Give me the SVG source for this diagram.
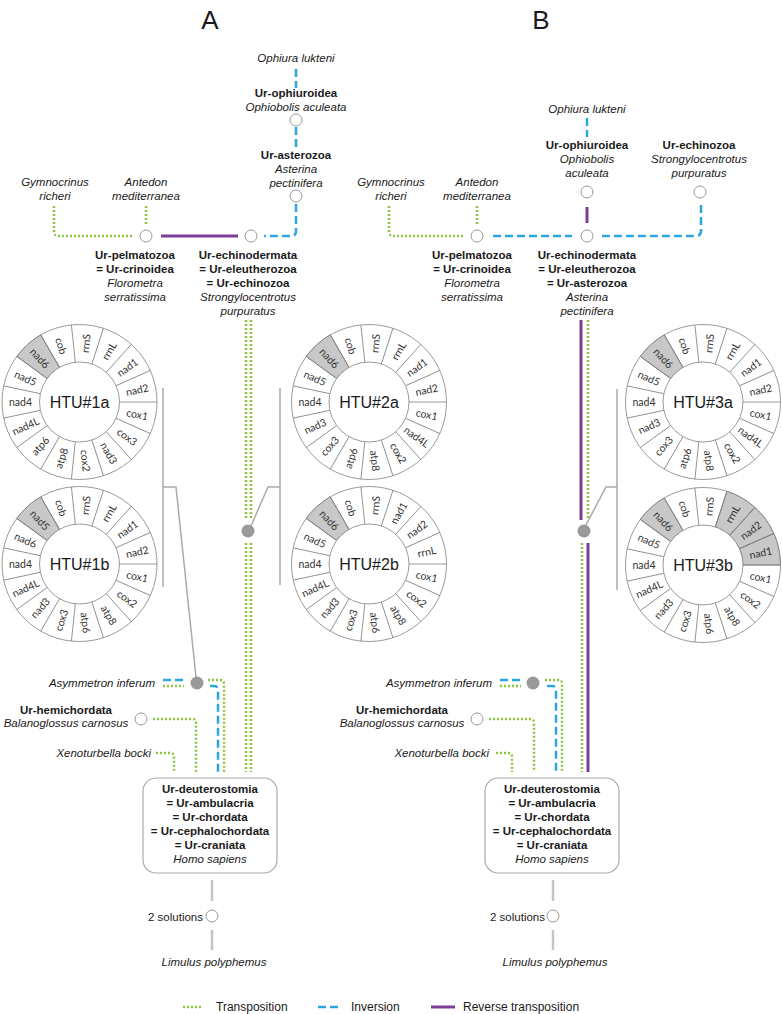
<svg xmlns="http://www.w3.org/2000/svg" xmlns:xlink="http://www.w3.org/1999/xlink" width="782" height="1014" viewBox="0 0 782 1014">
<style>
text{font-family:"Liberation Sans",Arial,sans-serif;fill:#1a1a1a}
.t{font-size:11.5px;text-anchor:middle}
.b{font-weight:bold}
.i{font-style:italic}
.e{text-anchor:end}
.hd{font-size:26px;text-anchor:middle}
.g{font-family:Lato,"Liberation Sans",sans-serif;font-size:10.5px;text-anchor:middle;dominant-baseline:central;fill:#333}
.htu{font-size:16px;text-anchor:middle;dominant-baseline:central}
.lg{font-size:12px}
.node{fill:#fff;stroke:#999;stroke-width:1}
.hub{fill:#999;stroke:none}
.ring{fill:#fff;stroke:#808080;stroke-width:0.8}
.hl{fill:#c8c8c8;stroke:#808080;stroke-width:0.8}
.spk line{stroke:#808080;stroke-width:0.8}
.tr{fill:none;stroke:#8cc63e;stroke-width:2.5;stroke-dasharray:2 2}
.inv{fill:none;stroke:#2aa7df;stroke-width:2.5;stroke-dasharray:8 4}
.rev{fill:none;stroke:#7d3c98;stroke-width:3}
.lead{fill:none;stroke:#aaa;stroke-width:1.5}
.root{fill:none;stroke:#c4c4c4;stroke-width:2.5}
.box{fill:#fff;stroke:#aaa;stroke-width:1.2}
</style>
<defs>
<g id="spokes" class="spk">
<line x1="0" y1="-40" x2="0" y2="-77.5" transform="rotate(-6)"/>
<line x1="0" y1="-40" x2="0" y2="-77.5" transform="rotate(18)"/>
<line x1="0" y1="-40" x2="0" y2="-77.5" transform="rotate(42)"/>
<line x1="0" y1="-40" x2="0" y2="-77.5" transform="rotate(66)"/>
<line x1="0" y1="-40" x2="0" y2="-77.5" transform="rotate(90)"/>
<line x1="0" y1="-40" x2="0" y2="-77.5" transform="rotate(114)"/>
<line x1="0" y1="-40" x2="0" y2="-77.5" transform="rotate(138)"/>
<line x1="0" y1="-40" x2="0" y2="-77.5" transform="rotate(162)"/>
<line x1="0" y1="-40" x2="0" y2="-77.5" transform="rotate(186)"/>
<line x1="0" y1="-40" x2="0" y2="-77.5" transform="rotate(210)"/>
<line x1="0" y1="-40" x2="0" y2="-77.5" transform="rotate(234)"/>
<line x1="0" y1="-40" x2="0" y2="-77.5" transform="rotate(258)"/>
<line x1="0" y1="-40" x2="0" y2="-77.5" transform="rotate(282)"/>
<line x1="0" y1="-40" x2="0" y2="-77.5" transform="rotate(306)"/>
<line x1="0" y1="-40" x2="0" y2="-77.5" transform="rotate(330)"/>
</g>
<path id="sec" class="hl" d="M-16.11 -75.81 A77.5 77.5 0 0 1 16.11 -75.81 L8.32 -39.13 A40 40 0 0 0 -8.32 -39.13 Z"/>
<g id="ringbase">
<circle class="ring" r="77.5"/>
</g>
<g id="ringtop">
<use href="#spokes"/>
<circle class="ring" r="40"/>
</g>
</defs>

<text class="hd" x="210" y="29">A</text>
<text class="hd" x="541" y="29">B</text>

<g id="connectors">
<!-- Panel A -->
<path class="inv" d="M296 69 V88"/>
<path class="inv" d="M296 127 V147"/>
<path class="inv" d="M296 204 V231 Q296 236 291 236 H264"/>
<path class="rev" d="M161 236 H238"/>
<path class="tr" d="M54 206 V231 Q54 236 59 236 H133"/>
<path class="tr" d="M146 206 V224"/>
<path class="tr" d="M246 320 V520 M251 320 V520"/>
<path class="tr" d="M246 543 V772 M251 543 V772"/>
<path class="inv" d="M163 680 H186"/>
<path class="tr" d="M163 686 H184"/>
<path class="tr" d="M208 680 H220 Q224 680 224 684 V772"/>
<path class="inv" d="M210 686 H214 Q218 686 218 690 V772"/>
<path class="tr" d="M153 719 H192 Q196 719 196 723 V772"/>
<path class="tr" d="M156 753 H170 Q174 753 174 757 V772"/>
<path class="lead" d="M163 388 V587 M163 487 H176 L196 677"/>
<path class="lead" d="M280 388 V585 M280 487 H268 L251 526"/>
<path class="root" d="M212 880 V901 M212 930 V950"/>
<!-- Panel B -->
<path class="inv" d="M587 118 V137"/>
<path class="rev" d="M587 207 V223"/>
<path class="inv" d="M493 236 H572"/>
<path class="inv" d="M701 205 V231 Q701 236 696 236 H602"/>
<path class="tr" d="M389 206 V231 Q389 236 394 236 H463"/>
<path class="tr" d="M477 206 V224"/>
<path class="rev" d="M581 320 V520"/>
<path class="tr" d="M588 320 V520"/>
<path class="tr" d="M582 543 V772"/>
<path class="rev" d="M588 543 V772"/>
<path class="inv" d="M500 680 H523"/>
<path class="tr" d="M500 686 H521"/>
<path class="tr" d="M545 680 H558 Q562 680 562 684 V772"/>
<path class="inv" d="M547 686 H552 Q556 686 556 690 V772"/>
<path class="tr" d="M489 719 H530 Q534 719 534 723 V772"/>
<path class="tr" d="M496 753 H508 Q512 753 512 757 V772"/>
<path class="lead" d="M617 389 V590 M617 487 H606 L586 525"/>
<path class="root" d="M553 880 V901 M553 930 V950"/>
</g>

<!-- Panel A nodes -->
<g id="a-ophiura"><text class="t i" x="296" y="62">Ophiura lukteni</text></g>
<g id="a-ophiuroidea"><text class="t b" x="296" y="97">Ur-ophiuroidea</text><text class="t i" x="296" y="111">Ophiobolis aculeata</text><circle class="node" cx="296" cy="120" r="6"/></g>
<g id="a-asterozoa"><text class="t b" x="296" y="159">Ur-asterozoa</text><text class="t i" x="296" y="173">Asterina</text><text class="t i" x="296" y="187">pectinifera</text><circle class="node" cx="296" cy="196" r="6"/></g>
<g id="a-gymnocrinus"><text class="t i" x="55" y="186">Gymnocrinus</text><text class="t i" x="55" y="200">richeri</text></g>
<g id="a-antedon"><text class="t i" x="146" y="186">Antedon</text><text class="t i" x="146" y="200">mediterranea</text></g>
<g id="a-pelmatozoa"><circle class="node" cx="146" cy="236" r="6"/><text class="t b" x="135" y="259">Ur-pelmatozoa</text><text class="t b" x="135" y="273">= Ur-crinoidea</text><text class="t i" x="135" y="287">Florometra</text><text class="t i" x="135" y="301">serratissima</text></g>
<g id="a-echinodermata"><circle class="node" cx="251" cy="236" r="6"/><text class="t b" x="248" y="259">Ur-echinodermata</text><text class="t b" x="248" y="273">= Ur-eleutherozoa</text><text class="t b" x="248" y="287">= Ur-echinozoa</text><text class="t i" x="248" y="301">Strongylocentrotus</text><text class="t i" x="248" y="315">purpuratus</text></g>
<g id="a-htu2"><circle class="hub" cx="248" cy="531" r="6.5"/></g>
<g id="a-asymmetron"><text class="t i e" x="155" y="687">Asymmetron inferum</text><circle class="hub" cx="197" cy="683" r="6.5"/></g>
<g id="a-hemichordata"><text class="t b" x="66" y="714">Ur-hemichordata</text><text class="t i" x="66" y="727">Balanoglossus carnosus</text><circle class="node" cx="141" cy="719" r="6"/></g>
<g id="a-xenoturbella"><text class="t i e" x="151" y="757">Xenoturbella bocki</text></g>
<g id="a-deuterostomia"><rect class="box" x="143" y="778" width="134" height="95" rx="13"/>
<text class="t b" x="210" y="793">Ur-deuterostomia</text><text class="t b" x="210" y="807">= Ur-ambulacria</text><text class="t b" x="210" y="821">= Ur-chordata</text><text class="t b" x="210" y="835">= Ur-cephalochordata</text><text class="t b" x="210" y="849">= Ur-craniata</text><text class="t i" x="210" y="863">Homo sapiens</text></g>
<g id="a-solutions"><circle class="node" cx="212" cy="916" r="6"/><text class="t e" x="203" y="921">2  solutions</text></g>
<g id="a-limulus"><text class="t i" x="214" y="966">Limulus polyphemus</text></g>

<g id="htu1a" transform="translate(79.5 402)">
<use href="#ringbase"/><use href="#sec" transform="rotate(318)"/><use href="#ringtop"/>
<text class="g" transform="rotate(72) translate(-59 0)">cob</text>
<text class="g" transform="rotate(-84) translate(59 0)">rrnS</text>
<text class="g" transform="rotate(-60) translate(59 0)">rrnL</text>
<text class="g" transform="rotate(-36) translate(59 0)">nad1</text>
<text class="g" transform="rotate(-12) translate(59 0)">nad2</text>
<text class="g" transform="rotate(12) translate(59 0)">cox1</text>
<text class="g" transform="rotate(36) translate(59 0)">cox3</text>
<text class="g" transform="rotate(60) translate(59 0)">nad3</text>
<text class="g" transform="rotate(84) translate(59 0)">cox2</text>
<text class="g" transform="rotate(-72) translate(-59 0)">atp8</text>
<text class="g" transform="rotate(-48) translate(-59 0)">atp6</text>
<text class="g" transform="rotate(-24) translate(-59 0)">nad4L</text>
<text class="g" transform="translate(-59 0)">nad4</text>
<text class="g" transform="rotate(24) translate(-59 0)">nad5</text>
<text class="g" transform="rotate(48) translate(-59 0)">nad6</text>
<text class="htu" x="0" y="0">HTU#1a</text>
</g>
<g id="htu1b" transform="translate(79.5 564)">
<use href="#ringbase"/><use href="#sec" transform="rotate(318)"/><use href="#ringtop"/>
<text class="g" transform="rotate(72) translate(-59 0)">cob</text>
<text class="g" transform="rotate(-84) translate(59 0)">rrnS</text>
<text class="g" transform="rotate(-60) translate(59 0)">rrnL</text>
<text class="g" transform="rotate(-36) translate(59 0)">nad1</text>
<text class="g" transform="rotate(-12) translate(59 0)">nad2</text>
<text class="g" transform="rotate(12) translate(59 0)">cox1</text>
<text class="g" transform="rotate(36) translate(59 0)">cox2</text>
<text class="g" transform="rotate(60) translate(59 0)">atp8</text>
<text class="g" transform="rotate(84) translate(59 0)">atp6</text>
<text class="g" transform="rotate(-72) translate(-59 0)">cox3</text>
<text class="g" transform="rotate(-48) translate(-59 0)">nad3</text>
<text class="g" transform="rotate(-24) translate(-59 0)">nad4L</text>
<text class="g" transform="translate(-59 0)">nad4</text>
<text class="g" transform="rotate(24) translate(-59 0)">nad6</text>
<text class="g" transform="rotate(48) translate(-59 0)">nad5</text>
<text class="htu" x="0" y="0">HTU#1b</text>
</g>
<g id="htu2a" transform="translate(369 402)">
<use href="#ringbase"/><use href="#sec" transform="rotate(318)"/><use href="#ringtop"/>
<text class="g" transform="rotate(72) translate(-59 0)">cob</text>
<text class="g" transform="rotate(-84) translate(59 0)">rrnS</text>
<text class="g" transform="rotate(-60) translate(59 0)">rrnL</text>
<text class="g" transform="rotate(-36) translate(59 0)">nad1</text>
<text class="g" transform="rotate(-12) translate(59 0)">nad2</text>
<text class="g" transform="rotate(12) translate(59 0)">cox1</text>
<text class="g" transform="rotate(36) translate(59 0)">nad4L</text>
<text class="g" transform="rotate(60) translate(59 0)">cox2</text>
<text class="g" transform="rotate(84) translate(59 0)">atp8</text>
<text class="g" transform="rotate(-72) translate(-59 0)">atp6</text>
<text class="g" transform="rotate(-48) translate(-59 0)">cox3</text>
<text class="g" transform="rotate(-24) translate(-59 0)">nad3</text>
<text class="g" transform="translate(-59 0)">nad4</text>
<text class="g" transform="rotate(24) translate(-59 0)">nad5</text>
<text class="g" transform="rotate(48) translate(-59 0)">nad6</text>
<text class="htu" x="0" y="0">HTU#2a</text>
</g>
<g id="htu2b" transform="translate(369 564)">
<use href="#ringbase"/><use href="#sec" transform="rotate(318)"/><use href="#ringtop"/>
<text class="g" transform="rotate(72) translate(-59 0)">cob</text>
<text class="g" transform="rotate(-84) translate(59 0)">rrnS</text>
<text class="g" transform="rotate(-60) translate(59 0)">nad1</text>
<text class="g" transform="rotate(-36) translate(59 0)">nad2</text>
<text class="g" transform="rotate(-12) translate(59 0)">rrnL</text>
<text class="g" transform="rotate(12) translate(59 0)">cox1</text>
<text class="g" transform="rotate(36) translate(59 0)">cox2</text>
<text class="g" transform="rotate(60) translate(59 0)">atp8</text>
<text class="g" transform="rotate(84) translate(59 0)">atp6</text>
<text class="g" transform="rotate(-72) translate(-59 0)">cox3</text>
<text class="g" transform="rotate(-48) translate(-59 0)">nad3</text>
<text class="g" transform="rotate(-24) translate(-59 0)">nad4L</text>
<text class="g" transform="translate(-59 0)">nad4</text>
<text class="g" transform="rotate(24) translate(-59 0)">nad5</text>
<text class="g" transform="rotate(48) translate(-59 0)">nad6</text>
<text class="htu" x="0" y="0">HTU#2b</text>
</g>

<!-- Panel B nodes -->
<g id="b-ophiura"><text class="t i" x="587" y="113">Ophiura lukteni</text></g>
<g id="b-ophiuroidea"><text class="t b" x="587" y="149">Ur-ophiuroidea</text><text class="t i" x="587" y="163">Ophiobolis</text><text class="t i" x="587" y="177">aculeata</text><circle class="node" cx="587" cy="192" r="6"/></g>
<g id="b-echinozoa"><text class="t b" x="699" y="149">Ur-echinozoa</text><text class="t i" x="699" y="163">Strongylocentrotus</text><text class="t i" x="699" y="177">purpuratus</text><circle class="node" cx="700" cy="192" r="6"/></g>
<g id="b-gymnocrinus"><text class="t i" x="391" y="186">Gymnocrinus</text><text class="t i" x="391" y="200">richeri</text></g>
<g id="b-antedon"><text class="t i" x="477" y="186">Antedon</text><text class="t i" x="477" y="200">mediterranea</text></g>
<g id="b-pelmatozoa"><circle class="node" cx="477" cy="236" r="6"/><text class="t b" x="472" y="259">Ur-pelmatozoa</text><text class="t b" x="472" y="273">= Ur-crinoidea</text><text class="t i" x="472" y="287">Florometra</text><text class="t i" x="472" y="301">serratissima</text></g>
<g id="b-echinodermata"><circle class="node" cx="587" cy="236" r="6"/><text class="t b" x="587" y="259">Ur-echinodermata</text><text class="t b" x="587" y="273">= Ur-eleutherozoa</text><text class="t b" x="587" y="287">= Ur-asterozoa</text><text class="t i" x="587" y="301">Asterina</text><text class="t i" x="587" y="315">pectinifera</text></g>
<g id="b-htu3"><circle class="hub" cx="584" cy="531" r="6.5"/></g>
<g id="b-asymmetron"><text class="t i e" x="492" y="687">Asymmetron inferum</text><circle class="hub" cx="533" cy="683" r="6.5"/></g>
<g id="b-hemichordata"><text class="t b" x="402" y="714">Ur-hemichordata</text><text class="t i" x="402" y="727">Balanoglossus carnosus</text><circle class="node" cx="477" cy="719" r="6"/></g>
<g id="b-xenoturbella"><text class="t i e" x="489" y="757">Xenoturbella bocki</text></g>
<g id="b-deuterostomia"><rect class="box" x="485" y="778" width="134" height="95" rx="13"/>
<text class="t b" x="552" y="793">Ur-deuterostomia</text><text class="t b" x="552" y="807">= Ur-ambulacria</text><text class="t b" x="552" y="821">= Ur-chordata</text><text class="t b" x="552" y="835">= Ur-cephalochordata</text><text class="t b" x="552" y="849">= Ur-craniata</text><text class="t i" x="552" y="863">Homo sapiens</text></g>
<g id="b-solutions"><circle class="node" cx="553" cy="916" r="6"/><text class="t e" x="545" y="921">2  solutions</text></g>
<g id="b-limulus"><text class="t i" x="555" y="966">Limulus polyphemus</text></g>

<g id="htu3a" transform="translate(703 402)">
<use href="#ringbase"/><use href="#sec" transform="rotate(318)"/><use href="#ringtop"/>
<text class="g" transform="rotate(72) translate(-59 0)">cob</text>
<text class="g" transform="rotate(-84) translate(59 0)">rrnS</text>
<text class="g" transform="rotate(-60) translate(59 0)">rrnL</text>
<text class="g" transform="rotate(-36) translate(59 0)">nad1</text>
<text class="g" transform="rotate(-12) translate(59 0)">nad2</text>
<text class="g" transform="rotate(12) translate(59 0)">cox1</text>
<text class="g" transform="rotate(36) translate(59 0)">nad4L</text>
<text class="g" transform="rotate(60) translate(59 0)">cox2</text>
<text class="g" transform="rotate(84) translate(59 0)">atp8</text>
<text class="g" transform="rotate(-72) translate(-59 0)">atp6</text>
<text class="g" transform="rotate(-48) translate(-59 0)">cox3</text>
<text class="g" transform="rotate(-24) translate(-59 0)">nad3</text>
<text class="g" transform="translate(-59 0)">nad4</text>
<text class="g" transform="rotate(24) translate(-59 0)">nad5</text>
<text class="g" transform="rotate(48) translate(-59 0)">nad6</text>
<text class="htu" x="0" y="0">HTU#3a</text>
</g>
<g id="htu3b" transform="translate(703 565)">
<use href="#ringbase"/><use href="#sec" transform="rotate(318)"/><use href="#sec" transform="rotate(30)"/><use href="#sec" transform="rotate(54)"/><use href="#sec" transform="rotate(78)"/><use href="#ringtop"/>
<text class="g" transform="rotate(72) translate(-59 0)">cob</text>
<text class="g" transform="rotate(-84) translate(59 0)">rrnS</text>
<text class="g" transform="rotate(-60) translate(59 0)">rrnL</text>
<text class="g" transform="rotate(-36) translate(59 0)">nad2</text>
<text class="g" transform="rotate(-12) translate(59 0)">nad1</text>
<text class="g" transform="rotate(12) translate(59 0)">cox1</text>
<text class="g" transform="rotate(36) translate(59 0)">cox2</text>
<text class="g" transform="rotate(60) translate(59 0)">atp8</text>
<text class="g" transform="rotate(84) translate(59 0)">atp6</text>
<text class="g" transform="rotate(-72) translate(-59 0)">cox3</text>
<text class="g" transform="rotate(-48) translate(-59 0)">nad3</text>
<text class="g" transform="rotate(-24) translate(-59 0)">nad4L</text>
<text class="g" transform="translate(-59 0)">nad4</text>
<text class="g" transform="rotate(24) translate(-59 0)">nad5</text>
<text class="g" transform="rotate(48) translate(-59 0)">nad6</text>
<text class="htu" x="0" y="0">HTU#3b</text>
</g>

<g id="legend">
<path class="tr" d="M183 1007 H203"/>
<text class="lg" x="216" y="1011">Transposition</text>
<path class="inv" d="M318 1007 H341"/>
<text class="lg" x="351" y="1011">Inversion</text>
<path class="rev" d="M431 1007 H455"/>
<text class="lg" x="463" y="1011">Reverse transposition</text>
</g>
</svg>
